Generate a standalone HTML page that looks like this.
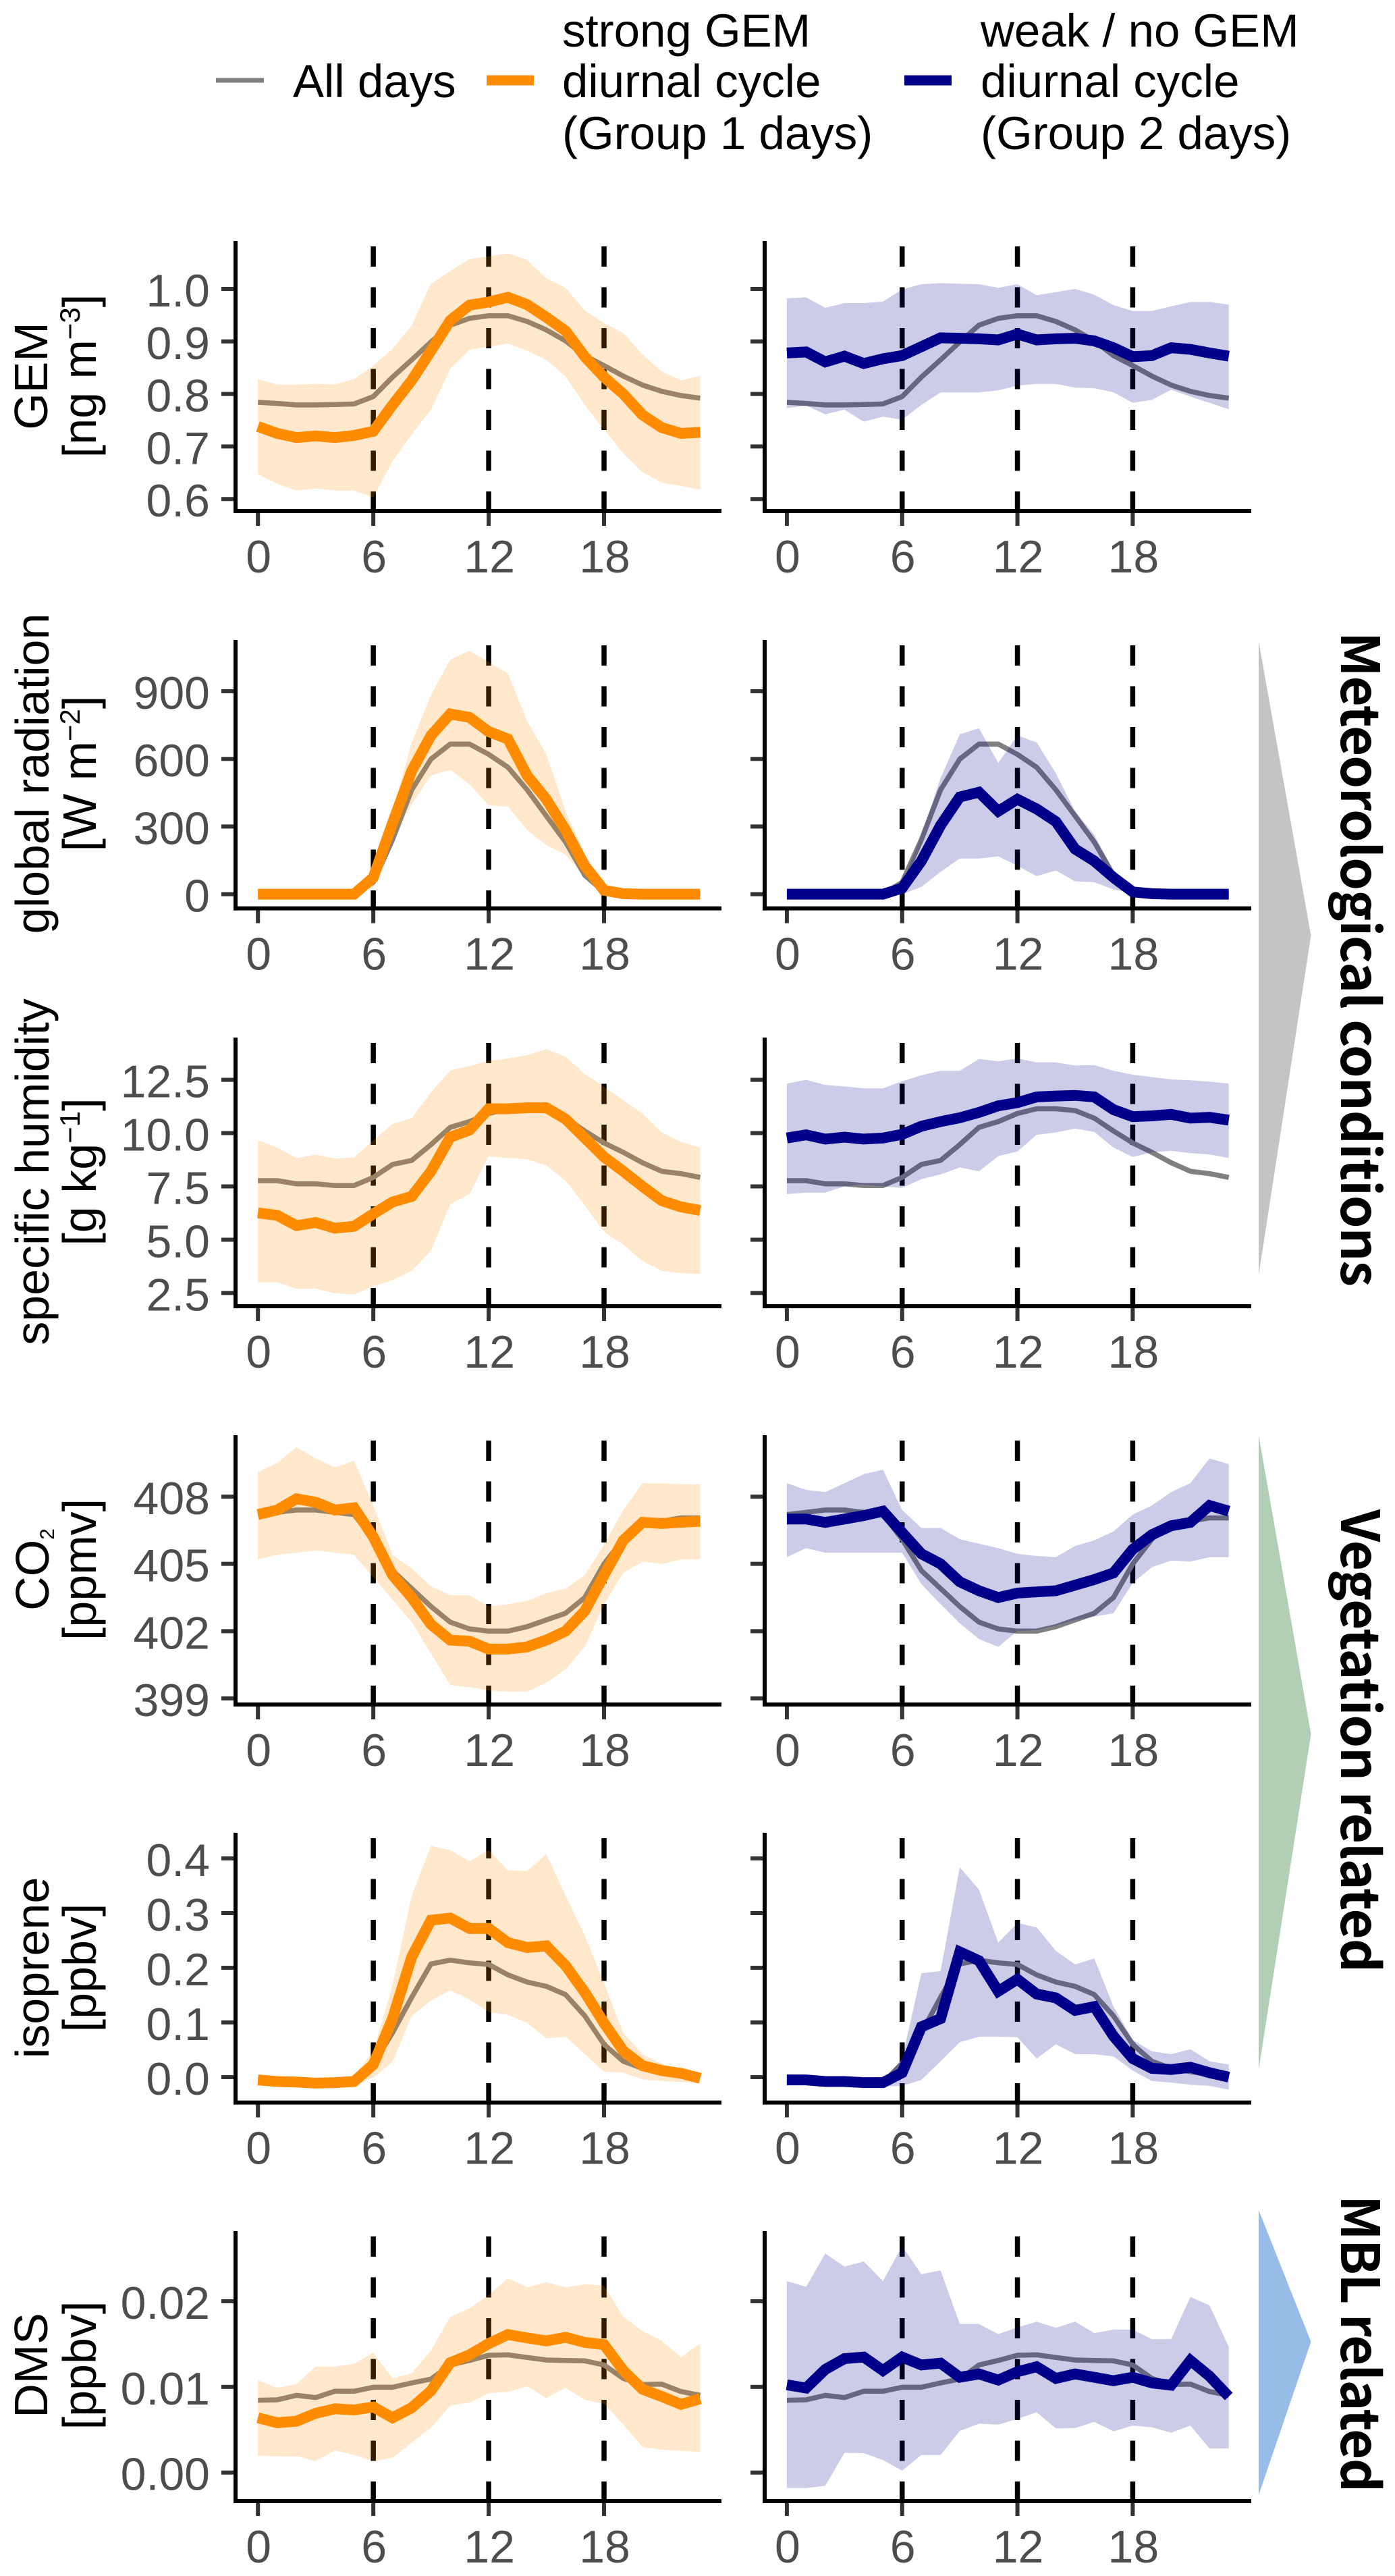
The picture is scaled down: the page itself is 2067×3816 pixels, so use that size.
<!DOCTYPE html>
<html lang="en">
<head>
<meta charset="utf-8">
<title>Diurnal cycles of GEM and related variables</title>
<style>
html,body{margin:0;padding:0;background:#fff;}
svg{display:block;}
text{font-family:"Liberation Sans",sans-serif;}
.tick-label{font-size:68px;fill:#4d4d4d;}
.axis-title{font-size:70px;fill:#000;}
.legend-text{font-size:69px;fill:#000;}
.side-label{font-family:"Noto Sans CJK SC","Liberation Sans",sans-serif;font-size:78px;font-weight:700;fill:#000;}
</style>
</head>
<body>
<svg id="figure" xmlns="http://www.w3.org/2000/svg" width="2067" height="3816" viewBox="0 0 2067 3816">
  <rect x="0" y="0" width="2067" height="3816" fill="#ffffff"/>
  <g id="legend">
    <g>
      <rect x="320" y="115.5" width="71" height="7" fill="#808080"/>
      <text class="legend-text" x="434" y="144">All days</text>
    </g>
    <g>
      <rect x="721" y="111.5" width="70" height="15" fill="#ff8c00"/>
      <text class="legend-text" x="833" y="69">strong GEM</text>
      <text class="legend-text" x="833" y="144">diurnal cycle</text>
      <text class="legend-text" x="833" y="221">(Group 1 days)</text>
    </g>
    <g>
      <rect x="1340" y="111.5" width="70" height="15" fill="#00008b"/>
      <text class="legend-text" x="1453" y="69">weak / no GEM</text>
      <text class="legend-text" x="1453" y="144">diurnal cycle</text>
      <text class="legend-text" x="1453" y="221">(Group 2 days)</text>
    </g>
  </g>

  <g id="side-annotations">
    <polygon points="1865,950 1942.5,1386 1865,1889" fill="#c4c4c4"/>
    <text class="side-label" transform="translate(1987,1421) rotate(90)" text-anchor="middle" textLength="970" lengthAdjust="spacing">Meteorological conditions</text>
    <polygon points="1865,2126 1942.5,2569 1865,3066" fill="#b0cfb4"/>
    <text class="side-label" transform="translate(1987,2579) rotate(90)" text-anchor="middle" textLength="686" lengthAdjust="spacing">Vegetation related</text>
    <polygon points="1865,3274 1942.5,3469 1865,3696" fill="#97bce8"/>
    <text class="side-label" transform="translate(1987,3472) rotate(90)" text-anchor="middle" textLength="440" lengthAdjust="spacing">MBL related</text>
  </g>

  <g>
    <g>
      <text class="axis-title" transform="translate(70,557) rotate(-90)" text-anchor="middle">GEM</text>
      <text class="axis-title" transform="translate(142,557) rotate(-90)" text-anchor="middle">[ng m<tspan font-size="42" dy="-24">−3</tspan><tspan dy="24">]</tspan></text>
    </g>
    <g>
      <text class="axis-title" transform="translate(72,1146) rotate(-90)" text-anchor="middle">global radiation</text>
      <text class="axis-title" transform="translate(142,1146) rotate(-90)" text-anchor="middle">[W m<tspan font-size="42" dy="-24">−2</tspan><tspan dy="24">]</tspan></text>
    </g>
    <g>
      <text class="axis-title" transform="translate(72,1736) rotate(-90)" text-anchor="middle">specific humidity</text>
      <text class="axis-title" transform="translate(142,1736) rotate(-90)" text-anchor="middle">[g kg<tspan font-size="42" dy="-24">−1</tspan><tspan dy="24">]</tspan></text>
    </g>
    <g>
      <text class="axis-title" transform="translate(72,2325) rotate(-90)" text-anchor="middle">CO<tspan font-size="30" dy="8">2</tspan></text>
      <text class="axis-title" transform="translate(142,2325) rotate(-90)" text-anchor="middle">[ppmv]</text>
    </g>
    <g>
      <text class="axis-title" transform="translate(72,2915) rotate(-90)" text-anchor="middle">isoprene</text>
      <text class="axis-title" transform="translate(142,2915) rotate(-90)" text-anchor="middle">[ppbv]</text>
    </g>
    <g>
      <text class="axis-title" transform="translate(70,3504) rotate(-90)" text-anchor="middle">DMS</text>
      <text class="axis-title" transform="translate(142,3504) rotate(-90)" text-anchor="middle">[ppbv]</text>
    </g>
  </g>
  <g id="panels"></g>
</svg>

<script>
const hours = [0,1,2,3,4,5,6,7,8,9,10,11,12,13,14,15,16,17,18,19,20,21,22,23];
const xTicks = [0,6,12,18];
const cycleMarkers = [6,12,18];

/* GEM */
const gemTicks = [0.6,0.7,0.8,0.9,1.0];
const gemTickLabels = ['0.6','0.7','0.8','0.9','1.0'];
const gemAll = [.784,.782,.779,.779,.780,.781,.795,.832,.865,.899,.931,.944,.949,.949,.938,.922,.901,.873,.854,.834,.817,.805,.797,.792];
const gemG1 = [.738,.725,.717,.720,.717,.721,.729,.779,.826,.882,.940,.969,.975,.984,.970,.946,.920,.871,.832,.800,.760,.736,.725,.727];
const gemG1Upper = [.828,.818,.818,.819,.818,.828,.854,.886,.931,1.010,1.034,1.057,1.062,1.068,1.055,1.020,1.002,.959,.935,.916,.875,.843,.826,.834];
const gemG1Lower = [.647,.629,.616,.620,.616,.616,.603,.672,.723,.770,.848,.884,.890,.896,.882,.865,.833,.779,.732,.687,.651,.631,.625,.618];
const gemG2 = [.878,.880,.861,.872,.858,.867,.873,.890,.907,.906,.905,.903,.914,.903,.905,.906,.901,.888,.871,.873,.888,.885,.878,.872];
const gemG2Upper = [.982,.984,.964,.973,.973,.976,.999,1.009,1.011,1.010,1.009,1.002,1.009,.988,.994,1.000,.989,.969,.958,.958,.967,.975,.975,.970];
const gemG2Lower = [.773,.778,.761,.770,.747,.757,.751,.779,.803,.803,.803,.807,.816,.819,.819,.812,.811,.803,.783,.789,.808,.795,.783,.771];

/* Global radiation */
const radTicks = [0,300,600,900];
const radTickLabels = ['0','300','600','900'];
const radAll = [0,0,0,0,0,0,53,242,463,599,666,666,620,563,463,347,231,84,10,0,0,0,0,0];
const radG1 = [0,0,0,0,0,0,74,315,547,704,799,784,721,688,526,421,284,126,17,2,0,0,0,0];
const radG1Upper = [0,0,0,0,0,0,84,368,673,883,1041,1079,1030,978,767,620,368,179,17,2,0,0,0,0];
const radG1Lower = [0,0,0,0,0,0,32,242,399,526,551,488,393,389,284,217,175,74,10,2,0,0,0,0];
const radG2 = [0,0,0,0,0,0,27,147,305,431,452,368,421,378,322,200,147,74,10,2,0,0,0,0];
const radG2Upper = [0,0,0,0,0,0,48,263,515,709,736,582,704,673,536,368,263,105,10,2,0,0,0,0];
const radG2Lower = [0,0,0,0,0,0,0,32,99,158,158,168,126,80,105,57,53,21,4,0,0,0,0,0];

/* Specific humidity */
const humTicks = [2.5,5,7.5,10,12.5];
const humTickLabels = ['2.5','5.0','7.5','10.0','12.5'];
const humAll = [7.77,7.77,7.62,7.62,7.54,7.54,7.92,8.53,8.72,9.46,10.27,10.54,10.92,11.14,11.14,11.06,10.70,10.10,9.54,9.10,8.61,8.21,8.10,7.92];
const humG1 = [6.26,6.14,5.66,5.81,5.54,5.63,6.21,6.77,7.03,8.21,9.81,10.14,11.14,11.14,11.19,11.19,10.66,9.77,8.88,8.21,7.50,6.83,6.54,6.37];
const humG1Upper = [9.66,9.32,8.83,8.99,8.81,8.86,9.66,10.43,10.70,11.92,12.94,13.14,13.39,13.50,13.66,13.94,13.59,12.77,12.17,11.54,10.92,10.03,9.59,9.32];
const humG1Lower = [3.00,3.00,2.70,2.70,2.48,2.43,2.81,3.10,3.54,4.48,6.66,7.14,8.92,8.83,8.77,8.48,7.77,6.61,5.37,4.77,3.99,3.54,3.43,3.39];
const humG2 = [9.77,9.92,9.72,9.81,9.72,9.77,9.94,10.32,10.54,10.72,10.97,11.28,11.43,11.70,11.74,11.77,11.70,11.10,10.77,10.81,10.88,10.70,10.74,10.61];
const humG2Upper = [12.32,12.5,12.26,12.19,12.10,12.10,12.43,12.72,12.92,12.92,13.48,13.37,13.5,13.32,13.32,13.17,13.19,12.92,12.74,12.63,12.52,12.48,12.41,12.32];
const humG2Lower = [7.14,7.21,7.21,7.50,7.59,7.50,7.43,7.84,8.06,8.39,8.21,8.92,9.14,9.92,10.03,10.21,10.06,9.32,8.88,9.10,9.17,9.06,9.0,8.83];

/* CO2 */
const co2Ticks = [399,402,405,408];
const co2TickLabels = ['399','402','405','408'];
const co2All = [407.2,407.3,407.4,407.4,407.3,407.2,406.1,404.7,403.9,403.1,402.4,402.1,402.0,402.0,402.2,402.5,402.8,403.5,405.0,406.1,406.8,406.9,407.05,407.05];
const co2G1 = [407.2,407.4,407.9,407.75,407.4,407.5,406.2,404.5,403.5,402.3,401.6,401.55,401.2,401.2,401.3,401.6,402.0,402.9,404.5,406.05,406.85,406.8,406.85,406.9];
const co2G1Upper = [409.1,409.5,410.2,409.7,409.3,409.6,407.6,405.4,404.8,404.0,403.6,403.6,403.1,403.2,403.35,403.7,403.9,404.5,405.85,407.4,408.6,408.6,408.55,408.55];
const co2G1Lower = [405.2,405.4,405.5,405.6,405.5,405.4,404.4,403.4,402.4,401.0,399.6,399.5,399.35,399.3,399.3,399.7,400.3,401.3,403.2,404.6,405.1,405.0,405.2,405.2];
const co2G2 = [407.0,407.0,406.85,407.0,407.15,407.35,406.4,405.45,405.0,404.2,403.8,403.5,403.7,403.75,403.8,404.05,404.3,404.6,405.65,406.3,406.7,406.85,407.6,407.35];
const co2G2Upper = [408.6,408.3,408.2,408.6,409.0,409.2,407.4,406.6,406.6,406.1,405.9,405.7,405.45,405.35,405.3,405.8,406.05,406.45,407.2,407.6,408.2,408.6,409.7,409.45];
const co2G2Lower = [405.3,405.7,405.5,405.5,405.5,405.5,405.5,404.1,403.2,402.35,401.65,401.3,402.0,402.05,402.25,402.5,402.65,402.8,404.15,404.85,405.15,405.1,405.3,405.3];

/* Isoprene */
const isoTicks = [0,0.1,0.2,0.3,0.4];
const isoTickLabels = ['0.0','0.1','0.2','0.3','0.4'];
const isoAll = [-.005,-.007,-.009,-.010,-.009,-.010,.025,.081,.146,.207,.214,.209,.206,.187,.174,.166,.151,.112,.060,.029,.016,.010,.005,-.001];
const isoG1 = [-.005,-.008,-.009,-.011,-.010,-.008,.023,.107,.220,.287,.291,.272,.272,.246,.237,.240,.204,.155,.099,.048,.021,.012,.007,-.002];
const isoG1Upper = [-.001,-.002,-.003,-.004,-.004,.003,.047,.168,.332,.423,.415,.395,.415,.378,.377,.408,.332,.259,.172,.081,.042,.025,.012,.003];
const isoG1Lower = [-.012,-.013,-.014,-.015,-.015,-.016,-.001,.028,.112,.140,.159,.142,.119,.114,.099,.071,.074,.042,.010,.008,-.004,-.007,-.009,-.012];
const isoG2 = [-.005,-.005,-.008,-.008,-.010,-.010,.008,.092,.107,.229,.213,.157,.179,.152,.145,.122,.129,.075,.034,.016,.014,.018,.008,0];
const isoG2Upper = [-.001,-.002,-.003,-.003,-.004,-.007,.034,.190,.194,.384,.343,.246,.282,.274,.231,.206,.217,.129,.068,.047,.042,.051,.029,.023];
const isoG2Lower = [-.012,-.012,-.014,-.014,-.016,-.017,-.016,-.005,.029,.064,.074,.074,.073,.034,.060,.042,.042,.038,.012,-.007,-.010,-.014,-.016,-.023];

/* DMS */
const dmsTicks = [0,0.01,0.02];
const dmsTickLabels = ['0.00','0.01','0.02'];
const dmsAll = [.00844,.00849,.00901,.00875,.00949,.00949,.00996,.00996,.01046,.01091,.01256,.01309,.01369,.01374,.01343,.01314,.01309,.01304,.01256,.01099,.01028,.01033,.00946,.00901];
const dmsG1 = [.00639,.00581,.00599,.00691,.00744,.00731,.00765,.00639,.00757,.00954,.01283,.01374,.01506,.01611,.01572,.01537,.01579,.01519,.01493,.01191,.00972,.00888,.00796,.00862];
const dmsG1Upper = [.01078,.00988,.01033,.01238,.01238,.01269,.01401,.01099,.01159,.01427,.01816,.01918,.02071,.02268,.02163,.02221,.02163,.02197,.02184,.01816,.0165,.0154,.01348,.01506];
const dmsG1Lower = [.00197,.00189,.00189,.00134,.00258,.00205,.00134,.00171,.0035,.0052,.00783,.00815,.00928,.00941,.01007,.0087,.00988,.00849,.00802,.0056,.00297,.00266,.00252,.00242];
const dmsG2 = [.01025,.00986,.01204,.0133,.01348,.01191,.01348,.01256,.01277,.01112,.01151,.0108,.01177,.01235,.01099,.01151,.01112,.01072,.01112,.01046,.0102,.01309,.01125,.00888];
const dmsG2Upper = [.02236,.02168,.02557,.02405,.02465,.02236,.02644,.02315,.0236,.01735,.01735,.01616,.01695,.01761,.0169,.01761,.01629,.01669,.01669,.01558,.01558,.0205,.01953,.01466];
const dmsG2Lower = [-.00181,-.00181,-.00155,.00231,.00226,.00147,.00021,.00205,.00205,.00486,.0057,.0056,.00625,.00704,.00515,.0052,.00591,.00481,.00547,.00528,.00465,.00547,.00281,.00281];

const SVG_NS = 'http://www.w3.org/2000/svg';
const panelsRoot = document.getElementById('panels');

function node(tag, attrs, parent) {
  const el = document.createElementNS(SVG_NS, tag);
  for (const k in attrs) el.setAttribute(k, attrs[k]);
  parent.appendChild(el);
  return el;
}

const columns = [
  { key: 'group-1', color: '#ff8c00', axisX: 349, axisEnd: 1069, x0: 382.2, xStep: 28.49, labels: true },
  { key: 'group-2', color: '#00008b', axisX: 1133, axisEnd: 1854, x0: 1165.9, xStep: 28.47, labels: false }
];

const rows = [
  { key: 'gem', top: 357, bottom: 757, refA: [0.6, 739.2], refB: [1.0, 428], ticks: gemTicks, labels: gemTickLabels, all: gemAll,
    g1: gemG1, g1u: gemG1Upper, g1l: gemG1Lower, g2: gemG2, g2u: gemG2Upper, g2l: gemG2Lower },
  { key: 'radiation', top: 948, bottom: 1345.6, refA: [0, 1324.6], refB: [900, 1024], ticks: radTicks, labels: radTickLabels, all: radAll,
    g1: radG1, g1u: radG1Upper, g1l: radG1Lower, g2: radG2, g2u: radG2Upper, g2l: radG2Lower },
  { key: 'humidity', top: 1537, bottom: 1935, refA: [2.5, 1915.4], refB: [12.5, 1599.6], ticks: humTicks, labels: humTickLabels, all: humAll,
    g1: humG1, g1u: humG1Upper, g1l: humG1Lower, g2: humG2, g2u: humG2Upper, g2l: humG2Lower },
  { key: 'co2', top: 2126, bottom: 2525, refA: [399, 2516], refB: [408, 2217], ticks: co2Ticks, labels: co2TickLabels, all: co2All,
    g1: co2G1, g1u: co2G1Upper, g1l: co2G1Lower, g2: co2G2, g2u: co2G2Upper, g2l: co2G2Lower },
  { key: 'isoprene', top: 2715, bottom: 3114.6, refA: [0, 3077], refB: [0.4, 2753], ticks: isoTicks, labels: isoTickLabels, all: isoAll,
    g1: isoG1, g1u: isoG1Upper, g1l: isoG1Lower, g2: isoG2, g2u: isoG2Upper, g2l: isoG2Lower },
  { key: 'dms', top: 3305, bottom: 3705, refA: [0, 3662.7], refB: [0.02, 3409], ticks: dmsTicks, labels: dmsTickLabels, all: dmsAll,
    g1: dmsG1, g1u: dmsG1Upper, g1l: dmsG1Lower, g2: dmsG2, g2u: dmsG2Upper, g2l: dmsG2Lower }
];

function yScale(row) {
  const m = (row.refB[1] - row.refA[1]) / (row.refB[0] - row.refA[0]);
  return v => row.refA[1] + (v - row.refA[0]) * m;
}
function xScale(col) {
  return h => col.x0 + h * col.xStep;
}
function linePoints(xs, values, x, y) {
  return xs.map((h, i) => x(h).toFixed(1) + ',' + y(values[i]).toFixed(1)).join(' ');
}
function ribbonPoints(xs, upper, lower, x, y) {
  const top = xs.map((h, i) => x(h).toFixed(1) + ',' + y(upper[i]).toFixed(1));
  const bottom = xs.map((h, i) => x(h).toFixed(1) + ',' + y(lower[i]).toFixed(1)).reverse();
  return top.concat(bottom).join(' ');
}

rows.forEach(row => {
  columns.forEach(col => {
    const x = xScale(col);
    const y = yScale(row);
    const panel = node('g', {}, panelsRoot);
    
    

    cycleMarkers.forEach(h => {
      const marker = node('line', { x1: x(h), x2: x(h), y1: row.top + 8, y2: row.bottom, stroke: '#000', 'stroke-width': 7.5, 'stroke-dasharray': '30 30.5' }, panel);
      
      
    });

    const allLine = node('polyline', { points: linePoints(hours, row.all, x, y), fill: 'none', stroke: '#808080', 'stroke-width': 7.5, 'stroke-linejoin': 'round' }, panel);
    
    

    const upper = col.labels ? row.g1u : row.g2u;
    const lower = col.labels ? row.g1l : row.g2l;
    const mean = col.labels ? row.g1 : row.g2;

    const ribbon = node('polygon', { points: ribbonPoints(hours, upper, lower, x, y), fill: col.color, 'fill-opacity': 0.2 }, panel);
    
    

    const meanLine = node('polyline', { points: linePoints(hours, mean, x, y), fill: 'none', stroke: col.color, 'stroke-width': 16, 'stroke-linejoin': 'miter', 'stroke-miterlimit': 4 }, panel);
    
    

    row.ticks.forEach((t, i) => {
      const tick = node('line', { x1: col.axisX - 21, x2: col.axisX, y1: y(t), y2: y(t), stroke: '#333333', 'stroke-width': 6 }, panel);
      
      
      if (col.labels) {
        const label = node('text', { class: 'tick-label', x: 311, y: y(t) + 26, 'text-anchor': 'end' }, panel);
        label.textContent = row.labels[i];
        
        
      }
    });

    xTicks.forEach(h => {
      const tick = node('line', { x1: x(h), x2: x(h), y1: row.bottom, y2: row.bottom + 22, stroke: '#333333', 'stroke-width': 6 }, panel);
      
      
      const label = node('text', { class: 'tick-label', x: x(h) + 1, y: row.bottom + 91, 'text-anchor': 'middle' }, panel);
      label.textContent = String(h);
      
      
    });

    const yAxis = node('line', { x1: col.axisX, x2: col.axisX, y1: row.top, y2: row.bottom + 3, stroke: '#000', 'stroke-width': 6 }, panel);
    
    

    const xAxis = node('line', { x1: col.axisX - 3, x2: col.axisEnd, y1: row.bottom, y2: row.bottom, stroke: '#000', 'stroke-width': 6 }, panel);
    
    
  });
});
</script>
</body>
</html>
